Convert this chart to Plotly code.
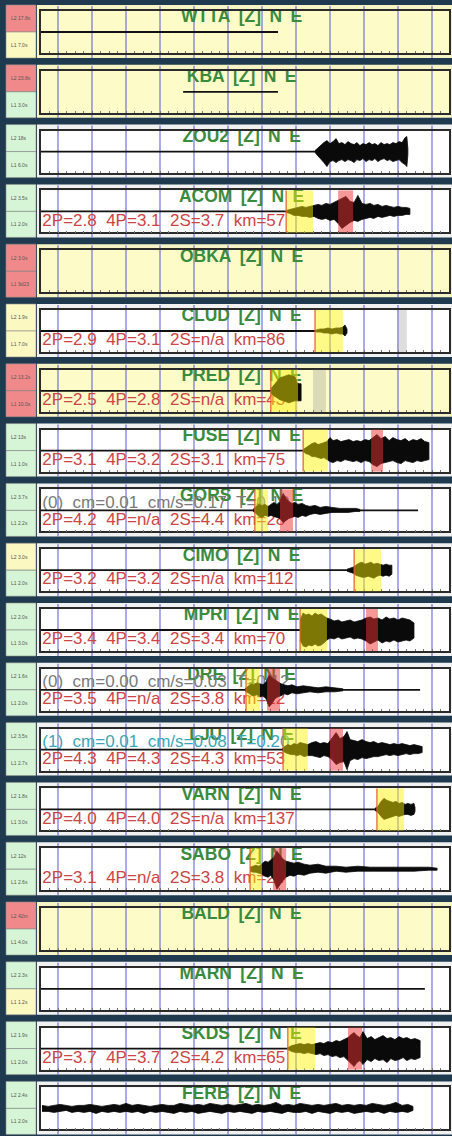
import plotly.graph_objects as go

W, H = 452, 1136

# ---- station rows (top to bottom) ----
stations = ["WTTA", "KBA", "ZOU2", "ACOM", "OBKA", "CLUD", "PRED", "FUSE", "GORS", "CIMO",
            "MPRI", "DRE", "LJU", "VARN", "SABO", "BALD", "MARN", "SKDS", "FERB"]
panel_state = ["Y", "Y", "W", "W", "Y", "W", "Y", "W", "W", "W",
               "W", "W", "W", "W", "W", "Y", "W", "W", "W"]
lamp_top = ["R", "R", "G", "G", "R", "Y", "R", "G", "G", "Y",
            "G", "G", "G", "G", "G", "R", "G", "G", "G"]
lamp_bottom = ["Y", "G", "G", "G", "R", "Y", "R", "G", "G", "G",
               "G", "G", "G", "G", "G", "G", "Y", "G", "G"]
lamp_top_text = ["L2 17.8s", "L2 23.8s", "L2 18s", "L2 3.5s", "L2 3.0s", "L2 1.9s", "L2 13.2s",
                 "L2 13s", "L2 3.7s", "L2 3.0s", "L2 2.0s", "L2 1.6s", "L2 3.5s", "L2 1.8s",
                 "L2 12s", "L2 42m", "L2 2.3s", "L2 1.9s", "L2 2.4s"]
lamp_bottom_text = ["L1 7.0s", "L1 3.0s", "L1 6.0s", "L1 2.0s", "L1 9d23", "L1 7.0s", "L1 10.0s",
                    "L1 1.0s", "L1 2.2s", "L1 2.0s", "L1 3.0s", "L1 2.0s", "L1 2.7s", "L1 3.0s",
                    "L1 2.6s", "L1 4.0s", "L1 1.2s", "L1 2.0s", "L1 2.0s"]

# ---- picked parameters ----
p2 = [None, None, None, "2.8", None, "2.9", "2.5", "3.1", "4.2", "3.2",
      "3.4", "3.5", "4.3", "4.0", "3.1", None, None, "3.7", None]
p4 = [None, None, None, "3.1", None, "3.1", "2.8", "3.2", "n/a", "3.2",
      "3.4", "n/a", "4.3", "4.0", "n/a", None, None, "3.7", None]
s2 = [None, None, None, "3.7", None, "n/a", "n/a", "3.1", "4.4", "n/a",
      "3.4", "3.8", "4.3", "n/a", "3.8", None, None, "4.2", None]
km = [None, None, None, 57, None, 86, 43, 75, 28, 112,
      70, 22, 53, 137, 24, None, None, 65, None]

# amplitude readouts
amp_line = {8: "(0)  cm=0.01  cm/s=0.17  T=0.10",
            11: "(0)  cm=0.00  cm/s=0.03  T=0.12",
            12: "(1)  cm=0.01  cm/s=0.08  T=0.20"}
amp_color = {8: "#7a7a7a", 11: "#7a7a7a", 12: "#3aa6b8"}

# ---- time axis (s) ----
t_min, t_max = -5, 115
grid_t = [0, 10, 20, 30, 40, 50, 60, 70, 80, 90, 100, 110]

# quiet trace segments
base_start = [-5, 36.8, -5, -5, None, -5, -5, -5, -5, -5,
              -5, -5, -5, -5, None, None, -5, -5, None]
base_end = [64.7, 64.7, 75.9, 67.1, None, 75.9, 62.9, 72.6, 105.9, 86.8,
            71.2, 106.5, 66.2, 93.5, None, None, 107.9, 67.6, None]

# pick windows (s)
yellow_win = [None, None, None, (67.1, 75.0), None, (75.6, 83.8), (62.6, 70.6), (72.1, 79.4),
              (57.9, 61.8), (87.1, 95.0), (71.2, 79.1), (55.3, 59.4), (66.2, 73.5),
              (93.8, 101.8), (56.5, 60.0), None, None, (67.6, 75.6), None]
red_win = [None, None, None, (82.4, 86.8), None, None, None, (92.1, 95.6),
           (65.3, 69.1), None, (90.6, 94.1), (61.5, 65.3), (80.0, 83.8),
           None, (63.2, 67.1), None, None, (85.3, 89.4), None]
gray_win = [None, None, None, None, None, (99.7, 102.6), (75.0, 78.8), None,
            None, None, None, None, None, None, None, None, None, None, None]

# ---- event envelopes: time (s), upper / lower amplitude ----
zou2_t = [75.6, 76.5, 77.4, 78.2, 79.1, 80.0, 80.9, 81.8, 82.6, 83.5, 84.4, 85.3, 86.2, 87.1, 87.9,
          88.8, 89.7, 90.6, 91.5, 92.4, 93.2, 94.1, 95.0, 95.9, 96.8, 97.6, 98.5, 99.4, 100.3,
          101.2, 102.1, 102.6, 102.9]
zou2_up = [1, 4, 7, 9, 11, 8, 10, 13, 8, 9, 7, 10, 8, 7, 9, 6, 8, 7, 9, 7, 8, 6, 9, 7, 8, 7, 9, 8,
           10, 9, 14, 15, 3]
zou2_dn = [1, 5, 8, 11, 15, 10, 9, 11, 9, 8, 10, 8, 9, 11, 8, 9, 7, 10, 8, 9, 7, 10, 8, 7, 9, 8,
           10, 9, 8, 11, 13, 15, 3]

acom_t = [67.1, 68.2, 69.4, 70.6, 71.8, 72.9, 74.1, 75.3, 76.5, 77.6, 78.8, 80.0, 81.2, 82.4, 83.5,
          84.7, 85.9, 87.1, 88.2, 89.4, 90.6, 91.8, 92.9, 94.1, 95.3, 96.5, 97.6, 98.8, 100.0,
          101.2, 102.4, 103.5]
acom_up = [1, 2, 3, 4, 5, 4, 5, 6, 7, 6, 8, 7, 9, 11, 13, 15, 10, 9, 16, 8, 7, 8, 6, 7, 5, 6, 5, 4,
           5, 4, 4, 3]
acom_dn = [1, 2, 4, 4, 5, 5, 6, 5, 7, 8, 7, 9, 8, 12, 17, 14, 11, 9, 10, 8, 7, 6, 7, 5, 6, 5, 4, 5,
           4, 4, 3, 3]

clud_t = [75.9, 77.1, 78.2, 79.4, 80.6, 81.8, 82.9, 83.8, 84.4, 85.0]
clud_up = [1, 2, 2, 3, 2, 3, 3, 4, 6, 2]
clud_dn = [1, 1, 2, 2, 3, 2, 3, 3, 5, 2]

pred_t = [62.6, 63.5, 64.4, 65.3, 66.2, 67.1, 67.9, 68.8, 69.7, 70.3, 70.9, 71.5]
pred_up = [2, 6, 10, 13, 14, 15, 16, 15, 14, 8, 7, 7]
pred_dn = [2, 5, 7, 9, 10, 11, 12, 11, 10, 10, 10, 10]

fuse_t = [72.1, 72.9, 73.8, 74.7, 75.6, 76.5, 77.4, 78.2, 79.1, 80.0, 80.9, 82.1, 83.2, 84.4, 85.6,
          86.8, 87.9, 89.1, 90.3, 91.5, 92.6, 93.8, 95.0, 96.2, 97.4, 98.5, 99.7, 100.9, 102.1,
          103.2, 104.4, 105.6, 106.8, 107.9, 109.1]
fuse_up = [1, 3, 5, 7, 8, 6, 7, 8, 9, 13, 10, 11, 9, 10, 11, 9, 10, 9, 11, 10, 13, 16, 12, 14, 10,
           13, 11, 10, 12, 9, 11, 10, 12, 9, 8]
fuse_dn = [1, 3, 4, 6, 6, 7, 8, 7, 9, 11, 12, 10, 11, 9, 10, 11, 10, 12, 10, 11, 14, 16, 13, 12, 11,
           10, 12, 13, 10, 11, 12, 10, 11, 10, 9]

gors_t = [57.4, 58.2, 59.1, 60.0, 60.9, 61.8, 62.6, 63.5, 64.4, 65.3, 66.2, 67.1, 67.9, 68.8, 69.7,
          70.6, 71.8, 72.9, 74.1, 75.6, 77.1, 78.8, 80.6, 82.9, 85.3, 87.6, 88.8]
gors_up = [1, 4, 6, 5, 6, 4, 6, 8, 6, 9, 17, 12, 9, 7, 8, 6, 7, 5, 4, 5, 3, 4, 3, 2, 2, 2, 1]
gors_dn = [1, 3, 6, 7, 5, 6, 5, 6, 7, 8, 12, 10, 8, 7, 6, 7, 5, 6, 4, 3, 4, 3, 2, 2, 2, 1, 1]

cimo_t = [85.0, 85.9, 86.8, 87.6, 88.5, 89.4, 90.3, 91.2, 92.1, 92.9, 93.8, 94.7, 95.6, 96.5, 97.4,
          98.2]
cimo_up = [1, 2, 3, 5, 7, 8, 6, 7, 8, 6, 7, 6, 5, 6, 5, 5]
cimo_dn = [1, 2, 3, 5, 6, 7, 7, 6, 7, 8, 6, 5, 6, 5, 6, 4]

mpri_t = [71.2, 72.1, 72.9, 73.8, 74.7, 75.6, 76.5, 77.4, 78.2, 79.1, 80.0, 81.2, 82.4, 83.5, 84.7,
          85.9, 87.1, 88.2, 89.4, 90.6, 91.8, 92.9, 94.1, 95.3, 96.5, 97.6, 98.8, 100.0, 101.2,
          102.4, 103.5, 104.7]
mpri_up = [10, 17, 15, 16, 14, 17, 15, 16, 14, 12, 11, 9, 10, 8, 9, 10, 8, 9, 10, 12, 13, 11, 12, 10,
           13, 11, 12, 10, 12, 11, 10, 7]
mpri_dn = [10, 16, 17, 15, 16, 14, 16, 15, 13, 10, 8, 9, 7, 9, 8, 7, 9, 8, 9, 11, 14, 12, 10, 13, 11,
           12, 10, 12, 11, 10, 11, 8]

dre_t = [55.0, 55.9, 56.8, 57.6, 58.5, 59.4, 60.3, 61.2, 62.1, 62.9, 63.8, 64.7, 65.6, 66.5, 67.6,
         68.8, 70.3, 72.1, 74.1, 76.5, 78.8, 81.5, 83.8]
dre_up = [1, 4, 6, 5, 7, 6, 5, 8, 15, 12, 10, 8, 6, 5, 4, 5, 3, 4, 3, 2, 3, 2, 1]
dre_dn = [1, 3, 5, 6, 5, 7, 6, 9, 17, 14, 9, 7, 6, 4, 5, 3, 4, 3, 2, 3, 2, 2, 1]

lju_t = [65.9, 66.8, 67.6, 68.5, 69.4, 70.3, 71.2, 72.4, 73.5, 74.7, 75.9, 77.1, 78.2, 79.4, 80.6,
         81.8, 82.9, 84.1, 85.0, 85.9, 87.1, 88.2, 89.4, 90.6, 91.8, 92.9, 94.1, 95.3, 96.5, 97.6,
         98.8, 100.0, 101.2, 102.4, 103.5, 104.7, 105.9, 107.1]
lju_up = [1, 3, 5, 4, 6, 5, 7, 6, 5, 7, 8, 6, 7, 6, 12, 17, 11, 13, 18, 10, 9, 8, 10, 8, 7, 8, 6, 7,
          6, 5, 6, 5, 6, 5, 4, 5, 4, 3]
lju_dn = [1, 3, 4, 5, 5, 6, 5, 7, 6, 6, 7, 8, 6, 7, 10, 15, 13, 12, 20, 11, 9, 10, 8, 9, 8, 7, 7, 6,
          5, 6, 5, 6, 5, 4, 5, 4, 4, 3]

varn_t = [93.2, 94.1, 95.0, 95.9, 96.8, 97.6, 98.5, 99.4, 100.3, 101.2, 102.1, 102.9, 103.8, 104.7,
          105.0]
varn_up = [1, 3, 8, 11, 9, 8, 7, 8, 6, 7, 5, 6, 5, 6, 2]
varn_dn = [1, 3, 7, 10, 9, 8, 7, 6, 7, 6, 5, 5, 6, 5, 2]

sabo_t = [56.5, 57.4, 58.2, 59.1, 60.0, 60.9, 61.8, 62.6, 63.5, 64.4, 65.3, 66.2, 67.1, 68.2, 69.4,
          70.6, 72.4, 74.1, 76.5, 78.8, 81.8, 84.7, 88.2, 91.8, 96.2, 100.6, 104.7, 109.1, 111.5]
sabo_up = [2, 3, 4, 3, 6, 8, 7, 9, 12, 18, 14, 10, 8, 7, 6, 7, 5, 4, 5, 3, 3, 2, 3, 2, 2, 2, 2, 2, 1]
sabo_dn = [2, 3, 3, 4, 5, 7, 8, 6, 11, 20, 15, 11, 8, 6, 7, 5, 6, 4, 3, 4, 2, 3, 2, 2, 2, 2, 2, 1, 1]

skds_t = [67.6, 68.8, 70.0, 71.2, 72.4, 73.5, 74.7, 75.9, 77.1, 78.2, 79.4, 80.6, 81.8, 82.9, 84.1,
          85.3, 86.2, 87.1, 87.9, 88.8, 89.7, 90.9, 92.1, 93.2, 94.4, 95.6, 96.8, 97.9, 99.1, 100.3,
          101.5, 102.6, 103.8, 105.0, 106.5]
skds_up = [1, 3, 4, 5, 4, 5, 4, 5, 6, 5, 7, 6, 8, 7, 9, 11, 14, 16, 13, 11, 17, 10, 12, 9, 11, 13, 10,
           11, 9, 12, 10, 11, 9, 10, 8]
skds_dn = [1, 3, 4, 4, 5, 4, 5, 6, 5, 7, 6, 8, 7, 9, 8, 12, 15, 18, 14, 12, 16, 11, 13, 10, 12, 11,
           14, 10, 12, 11, 9, 12, 10, 11, 9]

ferb_t = [-4.7, -2.9, -1.2, 0.6, 2.4, 4.1, 5.9, 7.6, 9.4, 11.2, 12.9, 14.7, 16.5, 18.2, 20.0, 21.8,
          23.5, 25.3, 27.1, 28.8, 30.6, 32.4, 34.1, 35.9, 37.6, 39.4, 41.2, 42.9, 44.7, 46.5, 48.2,
          50.0, 51.8, 53.5, 55.3, 57.1, 58.8, 60.6, 62.4, 64.1, 65.9, 67.6, 69.4, 71.2, 72.9, 74.7,
          76.5, 78.2, 80.0, 81.8, 83.5, 85.3, 87.1, 88.8, 90.6, 92.4, 94.1, 95.9, 97.6, 99.4, 101.2,
          102.9, 104.4]
ferb_up = [3, 2, 3, 4, 3, 2, 3, 3, 4, 3, 2, 3, 4, 3, 5, 3, 4, 3, 2, 3, 4, 3, 3, 5, 4, 3, 4, 3, 5, 4,
           3, 4, 3, 4, 5, 3, 4, 3, 4, 6, 3, 4, 3, 5, 4, 3, 4, 3, 4, 5, 3, 4, 3, 4, 3, 5, 4, 3, 4, 6,
           3, 4, 2]
ferb_dn = [3, 3, 4, 3, 2, 4, 3, 4, 3, 5, 3, 4, 3, 4, 3, 4, 3, 5, 3, 4, 3, 4, 5, 3, 4, 3, 5, 4, 3, 4,
           5, 3, 4, 3, 4, 5, 3, 4, 3, 4, 5, 3, 4, 4, 3, 5, 3, 4, 5, 3, 4, 3, 5, 4, 3, 4, 3, 5, 3, 4,
           3, 4, 2]

events = {
    "ZOU2": (zou2_t, zou2_up, zou2_dn), "ACOM": (acom_t, acom_up, acom_dn),
    "CLUD": (clud_t, clud_up, clud_dn), "PRED": (pred_t, pred_up, pred_dn),
    "FUSE": (fuse_t, fuse_up, fuse_dn), "GORS": (gors_t, gors_up, gors_dn),
    "CIMO": (cimo_t, cimo_up, cimo_dn), "MPRI": (mpri_t, mpri_up, mpri_dn),
    "DRE": (dre_t, dre_up, dre_dn), "LJU": (lju_t, lju_up, lju_dn),
    "VARN": (varn_t, varn_up, varn_dn), "SABO": (sabo_t, sabo_up, sabo_dn),
    "SKDS": (skds_t, skds_up, skds_dn), "FERB": (ferb_t, ferb_up, ferb_dn),
}

# ---- styling ----
BG = "#1f3a4e"
PANEL_FILL = {"Y": "#fdfcc8", "W": "#ffffff"}
STRIP_FILL = {"Y": "#f6f4c4", "W": "#f1f1f1"}
LAMP_FILL = {"R": "#f08a8a", "G": "#d5f5d6", "Y": "#fbf8c2"}
TITLE_C = "#3b8b3e"
PICK_C = "#cc4545"
FONT = "Liberation Sans, Arial, sans-serif"
AMP = 21  # half height of a trace frame in amplitude units
GAP = "\u00a0\u2009"  # word gap used in the channel header

ROW0, PITCH, FRAME_H = 11, 59.8, 42
X0_PX, X1_PX = 41, 449

fig = go.Figure()
shapes, annotations = [], []
layout = dict(width=W, height=H, margin=dict(l=0, r=0, t=0, b=0),
              paper_bgcolor=BG, plot_bgcolor="rgba(0,0,0,0)", showlegend=False)


def py(px):
    return 1 - px / H


for i, name in enumerate(stations):
    k = i + 1
    xa, ya = ("x" if k == 1 else f"x{k}"), ("y" if k == 1 else f"y{k}")
    xn, yn = ("xaxis" if k == 1 else f"xaxis{k}"), ("yaxis" if k == 1 else f"yaxis{k}")
    top = ROW0 + PITCH * i
    bot = top + FRAME_H
    layout[xn] = dict(domain=[X0_PX / W, X1_PX / W], range=[t_min, t_max], anchor=ya,
                      showgrid=False, zeroline=False, showticklabels=False,
                      showline=True, mirror=True, linecolor="#2b2b2b", linewidth=1.5,
                      ticks="inside", ticklen=2, tickcolor="#777", dtick=2.5, tick0=0)
    layout[yn] = dict(domain=[py(bot), py(top)], range=[-AMP, AMP], anchor=xa,
                      showgrid=False, zeroline=False, showticklabels=False,
                      showline=True, mirror=True, linecolor="#2b2b2b", linewidth=1.5)

    st = panel_state[i]
    # light strip around the frame
    shapes.append(dict(type="rect", xref="paper", yref="paper", layer="below",
                       x0=37 / W, x1=1, y0=py(bot + 5), y1=py(top - 6),
                       fillcolor=STRIP_FILL[st], line=dict(width=0)))
    # status lamps
    mid = top + FRAME_H / 2
    for (ya0, ya1, col, txt) in ((top - 6, mid, lamp_top[i], lamp_top_text[i]),
                                 (mid, bot + 5, lamp_bottom[i], lamp_bottom_text[i])):
        shapes.append(dict(type="rect", xref="paper", yref="paper", layer="below",
                           x0=6 / W, x1=36 / W, y0=py(ya1), y1=py(ya0),
                           fillcolor=LAMP_FILL[col], line=dict(width=0.6, color="#8a8a8a")))
        annotations.append(dict(xref="paper", yref="paper", x=9 / W, y=py((ya0 + ya1) / 2),
                                text=txt, showarrow=False, xanchor="left", yanchor="middle",
                                font=dict(size=5, color="#555555", family=FONT)))
    # frame background
    shapes.append(dict(type="rect", xref=f"{xa} domain", yref=f"{ya} domain", layer="below",
                       x0=0, x1=1, y0=0, y1=1, fillcolor=PANEL_FILL[st], line=dict(width=0)))
    # time grid
    for g in grid_t:
        shapes.append(dict(type="line", xref=xa, yref=f"{ya} domain", layer="below",
                           x0=g, x1=g, y0=-0.12, y1=1.12,
                           line=dict(color="rgba(95,95,215,0.75)", width=1.4)))

    # ---- texts (drawn under the traces) ----
    fig.add_trace(go.Scatter(x=[54], y=[14], mode="text", xaxis=xa, yaxis=ya,
                             text=[GAP.join([name, "[Z]", "N", "E"])],
                             textposition="middle center",
                             textfont=dict(size=17.5, color=TITLE_C, family=FONT, weight="bold"),
                             hoverinfo="skip", cliponaxis=False))
    if i in amp_line:
        fig.add_trace(go.Scatter(x=[t_min + 0.4], y=[7], mode="text", xaxis=xa, yaxis=ya,
                                 text=[amp_line[i].replace(" ", "\u00a0")],
                                 textposition="middle right",
                                 textfont=dict(size=17, color=amp_color[i], family=FONT),
                                 hoverinfo="skip", cliponaxis=False))
    if p2[i] is not None:
        label = f"2P={p2[i]}  4P={p4[i]}  2S={s2[i]}  km={km[i]}".replace(" ", "\u00a0")
        fig.add_trace(go.Scatter(x=[t_min + 0.4], y=[-10], mode="text", xaxis=xa, yaxis=ya,
                                 text=[label], textposition="middle right",
                                 textfont=dict(size=17, color=PICK_C, family=FONT),
                                 hoverinfo="skip", cliponaxis=False))

    # ---- seismic trace ----
    if base_start[i] is not None:
        fig.add_trace(go.Scatter(x=[base_start[i], base_end[i]], y=[0, 0], mode="lines",
                                 xaxis=xa, yaxis=ya, line=dict(color="#111111", width=1.8),
                                 hoverinfo="skip"))
    if name in events:
        t, up, dn = events[name]
        fig.add_trace(go.Scatter(x=list(t) + list(t[::-1]),
                                 y=list(up) + [-v for v in dn[::-1]],
                                 mode="lines", fill="toself", fillcolor="#0a0a0a",
                                 line=dict(color="#0a0a0a", width=0.8),
                                 xaxis=xa, yaxis=ya, hoverinfo="skip"))

    # ---- pick windows (translucent, above the trace) ----
    if gray_win[i] is not None:
        a, b = gray_win[i]
        shapes.append(dict(type="rect", xref=xa, yref=f"{ya} domain", layer="above",
                           x0=a, x1=b, y0=0, y1=1, fillcolor="rgba(150,150,150,0.32)",
                           line=dict(width=0)))
    if yellow_win[i] is not None:
        a, b = yellow_win[i]
        shapes.append(dict(type="rect", xref=xa, yref=f"{ya} domain", layer="above",
                           x0=a, x1=b, y0=0, y1=1, fillcolor="rgba(255,245,0,0.47)",
                           line=dict(width=0)))
        shapes.append(dict(type="line", xref=xa, yref=f"{ya} domain", layer="above",
                           x0=a, x1=a, y0=0, y1=1, line=dict(color="#e0602a", width=1.2)))
    if red_win[i] is not None:
        a, b = red_win[i]
        shapes.append(dict(type="rect", xref=xa, yref=f"{ya} domain", layer="above",
                           x0=a, x1=b, y0=0, y1=1, fillcolor="rgba(240,50,50,0.5)",
                           line=dict(width=0)))

layout["shapes"] = shapes
layout["annotations"] = annotations
fig.update_layout(**layout)
fig.write_html("out.html")
